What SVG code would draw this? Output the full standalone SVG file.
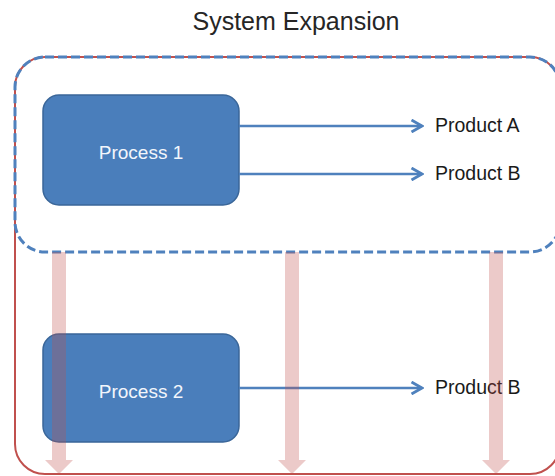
<svg xmlns="http://www.w3.org/2000/svg" width="555" height="476" viewBox="0 0 555 476">
  <style>
    .title { font-family: "Liberation Sans", Arial, sans-serif; font-size: 25px; fill: #262626; text-anchor: middle; }
    .proc rect { fill: #4a7ebb; stroke: #3a6699; stroke-width: 1.5; }
    .proc text { font-family: "Liberation Sans", Arial, sans-serif; font-size: 19px; fill: #f3f6fb; text-anchor: middle; }
    .product text { font-family: "Liberation Sans", Arial, sans-serif; font-size: 19.5px; fill: #1a1a1a; }
    .flow { stroke: #4f81bd; stroke-width: 2.5; fill: none; marker-end: url(#open-head); }
    .bound-outer { fill: #ffffff; stroke: #c0504d; stroke-width: 2; }
    .bound-inner { fill: none; stroke: #4f81bd; stroke-width: 3; stroke-dasharray: 9 4; }
    .burden { fill: #c0504d; fill-opacity: 0.3; }
  </style>
  <defs>
    <marker id="open-head" viewBox="0 0 14 14" refX="12.5" refY="7" markerWidth="14" markerHeight="14" markerUnits="userSpaceOnUse" orient="auto">
      <polyline points="2,1 12.5,7 2,13" fill="none" stroke="#4f81bd" stroke-width="2.8" stroke-linejoin="miter"/>
    </marker>
  </defs>

  <rect width="555" height="476" fill="#ffffff"/>

  <text class="title" x="296" y="30">System Expansion</text>

  <!-- system boundaries -->
  <g id="expanded-boundary">
    <rect class="bound-outer" x="15" y="57" width="545" height="417" rx="30" ry="30"/>
  </g>
  <g id="original-boundary">
    <rect class="bound-inner" x="15" y="57" width="545" height="195" rx="30" ry="30"/>
  </g>

  <!-- processes -->
  <g id="process-1" class="proc">
    <rect x="43" y="95" width="196" height="110" rx="16" ry="16"/>
    <text x="141" y="159">Process 1</text>
  </g>
  <g id="process-2" class="proc">
    <rect x="43" y="334" width="196" height="108" rx="16" ry="16"/>
    <text x="141" y="398">Process 2</text>
  </g>

  <!-- product flows -->
  <g id="connectors">
    <line class="flow" x1="239" y1="126" x2="422" y2="126"/>
    <line class="flow" x1="239" y1="174" x2="422" y2="174"/>
    <line class="flow" x1="239" y1="388" x2="422" y2="388"/>
  </g>

  <g id="product-a" class="product">
    <text x="435" y="132">Product A</text>
  </g>
  <g id="product-b-1" class="product">
    <text x="435" y="180">Product B</text>
  </g>
  <g id="product-b-2" class="product">
    <text x="435" y="394">Product B</text>
  </g>

  <!-- expansion arrows -->
  <g id="expansion-arrows">
    <path class="burden" d="M52,252 H66 V460 H73 L59,474 L45,460 H52 Z"/>
    <path class="burden" d="M285,252 H299 V460 H306 L292,474 L278,460 H285 Z"/>
    <path class="burden" d="M489,252 H503 V460 H510 L496,474 L482,460 H489 Z"/>
  </g>
</svg>
